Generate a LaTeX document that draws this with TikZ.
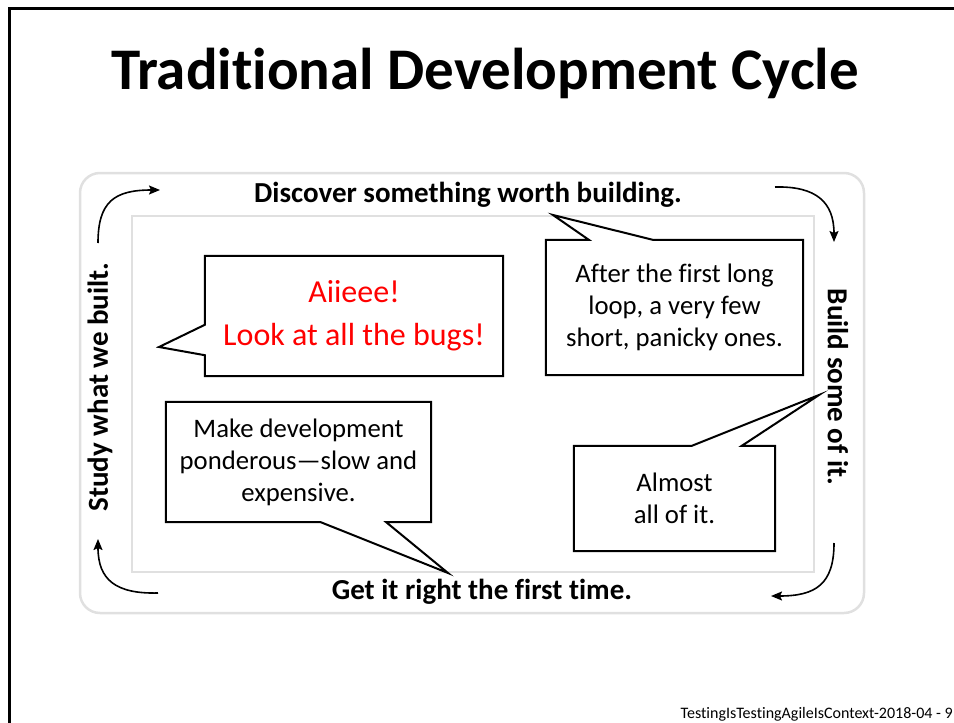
\documentclass[tikz,border=0pt]{standalone}
\usepackage{fontspec}
\setmainfont{Carlito}[Ligatures=NoCommon]
\usetikzlibrary{positioning, arrows.meta, calc}

\begin{document}
\begin{tikzpicture}[
    x=1pt, y=-1pt,
    phase/.style={font=\fontsize{29}{33}\selectfont\bfseries, inner sep=0pt},
    bubble/.style={align=center, inner sep=0pt, font=\fontsize{26.7}{32}\selectfont},
    outline/.style={draw, line width=2pt, line join=miter},
    turn/.style={-{Stealth[length=11pt, width=9pt, inset=2pt]}, line width=1.6pt},
    frame/.style={draw=black!12, line width=2.5pt}
]
    \useasboundingbox (0,0) rectangle (954,723);

    % slide edges and title
    \draw[line width=3pt] (9,723) -- (9,8) -- (954,8);
    \node[font=\fontsize{59}{64}\selectfont\bfseries, anchor=base] (title) at (485,89) {Traditional Development Cycle};
    \node[font=\fontsize{16}{18}\selectfont, anchor=base east, inner sep=0pt] (footer) at (953,718) {TestingIsTestingAgileIsContext-2018-04 - 9};

    % cycle frame
    \draw[frame, rounded corners=20pt] (80,173) rectangle (864,613);
    \draw[frame] (132,216) rectangle (814,572);

    % the four phases
    \node[phase, anchor=base] (discover) at (468,202) {Discover something worth building.};
    \node[phase, rotate=-90] (build) at (838,387) {Build some of it.};
    \node[phase, anchor=base] (right) at (482,599) {Get it right the first time.};
    \node[phase, rotate=90] (study) at (100,387) {Study what we built.};

    % corner arrows
    \coordinate (tl a) at (98,243);  \coordinate (tl b) at (160,190);
    \coordinate (tr a) at (775,187); \coordinate (tr b) at (834,242);
    \coordinate (br a) at (834,543); \coordinate (br b) at (771,596);
    \coordinate (bl a) at (158,593); \coordinate (bl b) at (98,539);
    \draw[turn] (tl a) .. controls (98,202) and (114,190) .. (tl b);
    \draw[turn] (tr a) .. controls (816,186) and (834,202) .. (tr b);
    \draw[turn] (br a) .. controls (834,584) and (816,596) .. (br b);
    \draw[turn] (bl a) .. controls (116,594) and (98,580) .. (bl b);

    % callouts
    \node[bubble, minimum width=298, minimum height=120, text=red, font=\fontsize{32}{43}\selectfont] (bugs) at (354,316) {Aiieee!\\Look at all the bugs!};
    \coordinate (bugs tip) at (159,347);
    \draw[outline] (bugs.north west) -- (bugs.north east) -- (bugs.south east) -- (bugs.south west)
        -- ++(0,-21) -- (bugs tip) -- ($(bugs.north west)+(0,69)$) -- cycle;

    \node[bubble, minimum width=257, minimum height=135] (loops) at (674.5,307.5) {After the first long\\loop, a very few\\short, panicky ones.};
    \coordinate (loops tip) at (553,215);
    \draw[outline] (loops.north west) -- ++(43,0) -- (loops tip) -- ($(loops.north west)+(107,0)$)
        -- (loops.north east) -- (loops.south east) -- (loops.south west) -- cycle;

    \node[bubble, minimum width=265, minimum height=120] (slow) at (298.5,462) {Make development\\ponderous---slow and\\expensive.};
    \coordinate (slow tip) at (448,573);
    \draw[outline] (slow.north west) -- (slow.north east) -- (slow.south east) -- ++(-45,0)
        -- (slow tip) -- ($(slow.south west)+(155,0)$) -- (slow.south west) -- cycle;

    \node[bubble, minimum width=201, minimum height=105] (almost) at (674.5,498.5) {Almost\\all of it.};
    \coordinate (almost tip) at (819,395);
    \draw[outline] (almost.north west) -- ++(118,0) -- (almost tip) -- ($(almost.north west)+(168,0)$)
        -- (almost.north east) -- (almost.south east) -- (almost.south west) -- cycle;
\end{tikzpicture}
\end{document}
